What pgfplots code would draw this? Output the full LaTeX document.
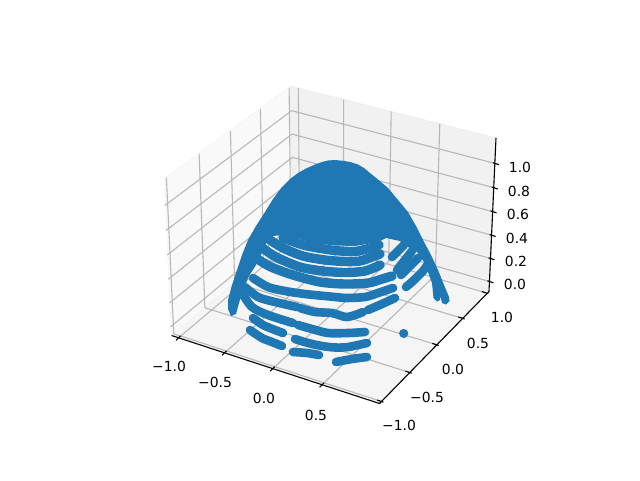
\documentclass[border=0pt]{standalone}
\usepackage{fontspec}
\setmainfont{DejaVu Sans}
\usepackage{pgfplots}
\pgfplotsset{compat=1.18}
\definecolor{mplblue}{HTML}{1F77B4}
\definecolor{gridc}{HTML}{B8B8B8}
\begin{document}
\begin{tikzpicture}
% the 3D box is drawn in screen coordinates (perspective view)
\begin{axis}[
    scale only axis,
    width=640pt, height=480pt,
    xmin=0, xmax=640, ymin=0, ymax=480,
    y dir=reverse,
    hide axis,
    clip=false,
    unbounded coords=jump,
    every axis plot/.append style={forget plot},
    grd/.style={no marks, color=gridc, line width=1.1pt},
    tck/.style={no marks, color=black, line width=1.1pt},
    scat/.style={no marks, smooth, tension=0.5, color=mplblue, line width=8.6pt, line cap=round, line join=round},
    scatw/.style={scat, line width=9.4pt},
]
\path (axis cs:0,0) rectangle (axis cs:640,480);
% panes
\addplot[fill={rgb,1:red,0.975;green,0.975;blue,0.975}, draw={rgb,1:red,0.96;green,0.96;blue,0.96}, line width=0.8pt]
    coordinates {(171.5,335.5) (164.5,178.5) (290.5,86) (293,234)} --cycle;
\addplot[fill={rgb,1:red,0.945;green,0.945;blue,0.945}, draw={rgb,1:red,0.935;green,0.935;blue,0.935}, line width=0.8pt]
    coordinates {(293,234) (290.5,86) (496,138) (489,291.5)} --cycle;
\addplot[fill={rgb,1:red,0.96;green,0.96;blue,0.96}, draw={rgb,1:red,0.95;green,0.95;blue,0.95}, line width=0.8pt]
    coordinates {(171.5,335.5) (379.5,403.5) (489,291.5) (293,234)} --cycle;
% grid lines in x
\addplot[grd] coordinates {
    (178,338.3) (299.7,235.7) (298.3,88) (nan,nan)
    (224,353.3) (343.2,248.3) (343.7,99.5) (nan,nan)
    (272.2,369.1) (388.7,261.5) (391.2,111.5) (nan,nan)
    (321.6,385.2) (435.3,275.1) (439.8,123.8)};
% grid lines in y
\addplot[grd] coordinates {
    (381.1,401.4) (173.8,333.8) (166.4,177.5) (nan,nan)
    (409.4,372.4) (204.9,307.7) (199.1,153.6) (nan,nan)
    (436.3,344.7) (234.7,282.7) (230.4,130.8) (nan,nan)
    (462.2,318.2) (263.4,258.7) (260.4,108.9) (nan,nan)
    (485.8,292.8) (290.9,235.6) (289.1,87.9)};
% grid lines in z
\addplot[grd] coordinates {
    (170.7,326.7) (293.1,224.9) (489.4,281.5) (nan,nan)
    (169.5,303.1) (292.8,202.6) (490.5,258.5) (nan,nan)
    (168.4,279.2) (292.5,180.1) (491.6,235.2) (nan,nan)
    (167.2,255.0) (292.3,157.3) (492.6,211.6) (nan,nan)
    (166.0,230.5) (292.0,134.1) (493.7,187.7) (nan,nan)
    (164.8,205.5) (291.7,110.7) (494.9,163.4)};
% axis lines
\addplot[tck] coordinates {(171.5,335.5) (379.5,403.5) (489,291.5) (496,138)};
% ticks
\addplot[tck] coordinates {
    (180.5,335.8) (176,340.3) (nan,nan)
    (226.5,350.8) (222,355.3) (nan,nan)
    (274.7,366.6) (270.2,371.1) (nan,nan)
    (324.1,382.7) (319.6,387.2) (nan,nan)
    (377.1,400.1) (383.5,402.2) (nan,nan)
    (405.4,371.1) (411.8,373.2) (nan,nan)
    (432.3,343.4) (438.7,345.5) (nan,nan)
    (458.2,316.9) (464.6,319.0) (nan,nan)
    (481.8,291.5) (488.2,293.6) (nan,nan)
    (487.4,280.8) (493.4,282.8) (nan,nan)
    (488.5,257.8) (494.5,259.8) (nan,nan)
    (489.6,234.5) (495.6,236.5) (nan,nan)
    (490.6,210.9) (496.6,212.9) (nan,nan)
    (491.7,187.0) (497.7,189.0) (nan,nan)
    (492.9,162.7) (498.9,164.7)};
% tick labels
\begin{scope}[every node/.style={font=\fontsize{13.9}{16}\selectfont, inner sep=0pt, text=black}]
\node at (axis cs:169,366) {−1.0};
\node at (axis cs:215,382) {−0.5};
\node at (axis cs:264,398) {0.0};
\node at (axis cs:316,415) {0.5};
\node at (axis cs:399,425) {−1.0};
\node at (axis cs:427,397) {−0.5};
\node at (axis cs:453,369) {0.0};
\node at (axis cs:478,343) {0.5};
\node at (axis cs:502,317) {1.0};
\node at (axis cs:515,284) {0.0};
\node at (axis cs:516,261) {0.2};
\node at (axis cs:517,238) {0.4};
\node at (axis cs:518,214) {0.6};
\node at (axis cs:519,191) {0.8};
\node at (axis cs:520,167) {1.0};
\end{scope}
% solid part of the dome
\addplot[fill=mplblue, draw=none] coordinates {
    (335,160) (345,161) (352,162.5) (358,164.5) (364,168) (370,173) (378,179.5) (388,188)
    (398,200) (408,212) (416,226) (423,240) (431,255) (438,270)
    (444,285) (449,297) (449.5,301) (446,304.5) (442,303) (440.5,296) (440,300) (437,301.5)
    (433.5,298) (432,283) (428,272)
    (424,262) (417,252) (408,247) (400,241) (386,238) (378,242) (355,246) (335,245.5)
    (312,243) (297,238) (285,235) (272,236) (266,244) (261,255) (256,265) (249,276)
    (243,290) (239,303) (236,314) (231,316) (228,309) (228,300) (232,285) (237,270)
    (242,255) (248,240) (256,226) (265,212) (273,199) (282,187) (290,179) (298,173)
    (306,168.5) (315,164.5) (322,162) (328,160.5)} --cycle;
% rings
\addplot[scatw] coordinates {(283,238) (300,244) (312,247) (335,250.5) (355,251.5) (370,248) (379,245)};
\addplot[scatw] coordinates {(270,240) (283,248) (303,256) (325,260) (345,261.5) (360,261) (372,257) (380,254)};
\addplot[scatw] coordinates {(264,249) (276,257) (300,267) (323,271) (345,272.5) (365,271) (380,265)};
\addplot[scatw] coordinates {(259,260) (271,267) (293,275) (320,282) (345,284) (368,283) (382,279) (392,276)};
\addplot[scat] coordinates {(253,278) (268,287) (285,291) (305,294) (335,297) (345,298) (365,297) (378,293) (393,288)};
\addplot[scat] coordinates {(245,287) (258,297) (275,302) (297,307)};
\addplot[scat] coordinates {(300,308) (315,312) (332,313) (347,317) (363,312)};
\addplot[scat] coordinates {(368,310) (382,304) (395,298)};
\addplot[scat] coordinates {(242,293) (252,307) (268,315) (293,323)};
\addplot[scat] coordinates {(298,325) (312,329) (328,333) (348,333) (365,332)};
\addplot[scat] coordinates {(253,318) (263,325) (275,330) (283,333)};
\addplot[scat] coordinates {(295,339) (308,343) (322,346) (335,347.5) (348,347) (367,343)};
\addplot[scat] coordinates {(250,330) (262,338) (272,342) (282,346)};
\addplot[scat] coordinates {(293,352) (307,353) (319,355)};
\addplot[scat] coordinates {(336,362) (352,359) (367,357)};
% outer arcs on the right
\addplot[scat] coordinates {(392,257) (404,245)};
\addplot[scat] coordinates {(397,270) (412,251)};
\addplot[scat] coordinates {(401,275) (408,268) (418,258)};
\addplot[scat] coordinates {(406,287) (413,281) (423,271) (428,264)};
% the lone point
\addplot[scat] coordinates {(403.4,333.3) (404,333.3)};
\end{axis}
\end{tikzpicture}
\end{document}
